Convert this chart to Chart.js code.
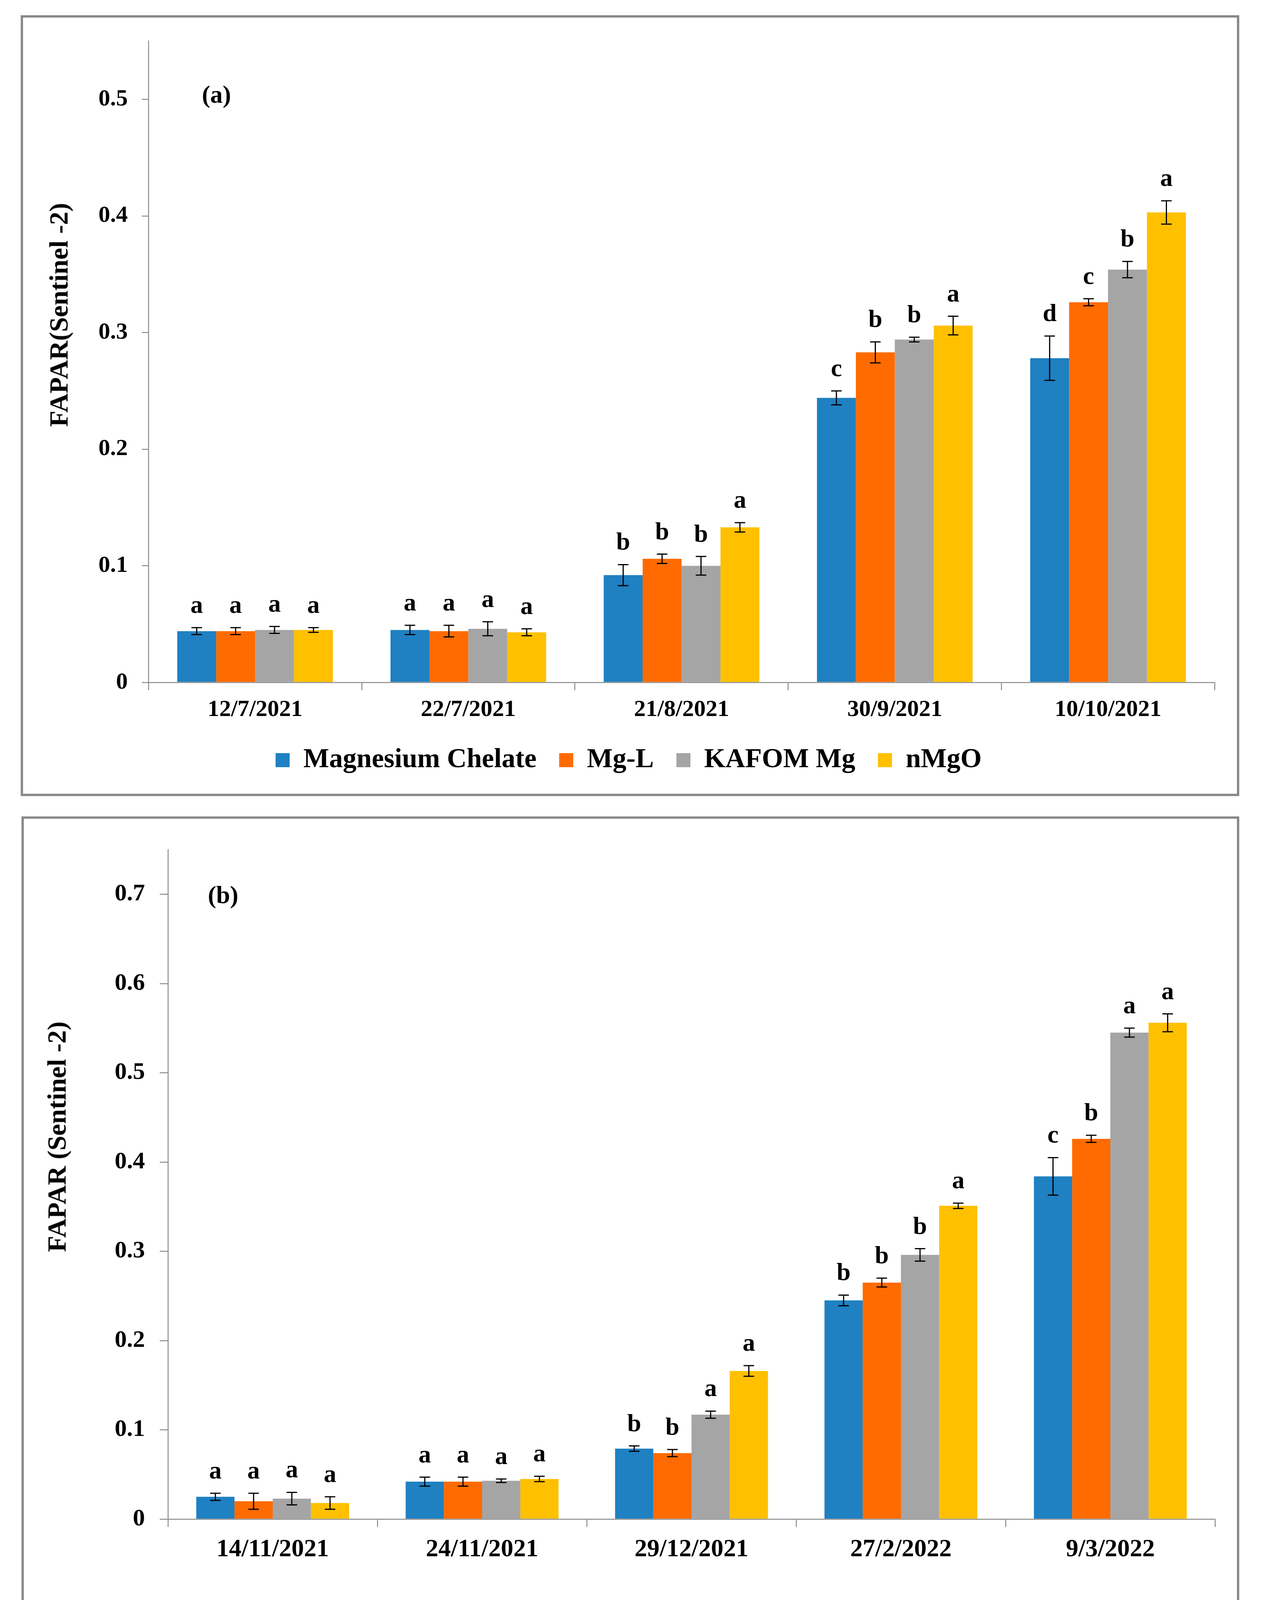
<!DOCTYPE html>
<html>
<head>
<meta charset="utf-8">
<script src="https://cdn.jsdelivr.net/npm/chart.js@4.4.0/dist/chart.umd.min.js"></script>
<style>
  html, body { margin: 0; padding: 0; background: #fff; }
  body { width: 3243px; height: 4274px; position: relative; overflow: hidden;
         font-family: 'Liberation Serif', 'Times New Roman', serif; }
  .panel { position: absolute; border: 6px solid #898989; box-sizing: border-box; background: #fff; }
  .panel canvas { position: absolute; left: 0; top: 0; }
  .ytitle { position: absolute; font-weight: bold; font-size: 68px; line-height: 1; white-space: nowrap;
            transform: translate(-50%, -50%) rotate(-90deg); color: #000; }
  .tag { position: absolute; font-weight: bold; font-size: 64px; line-height: 1; white-space: nowrap;
         transform: translate(-50%, -50%); color: #000; }
</style>
</head>
<body>

<div class="panel" style="left:53px; top:39px; width:3119px; height:1999px;">
  <canvas id="chartA" width="3107" height="1987" style="width:3107px;height:1987px;"></canvas>
  <div class="ytitle" style="left:91px; top:761px;">FAPAR(Sentinel -2)</div>
  <div class="tag" style="left:495px; top:197px;">(a)</div>
</div>

<div class="panel" style="left:55px; top:2090px; width:3117px; height:2136px;">
  <canvas id="chartB" width="3105" height="2124" style="width:3105px;height:2124px;"></canvas>
  <div class="ytitle" style="left:84px; top:814px;">FAPAR (Sentinel -2)</div>
  <div class="tag" style="left:510px; top:195px;">(b)</div>
</div>

<script>
const seriesNames = ['Magnesium Chelate', 'Mg-L', 'KAFOM Mg', 'nMgO'];
const seriesColors = ['#1F80C2', '#FF6B00', '#A5A5A5', '#FFC000'];

// panel (a)
const datesA = ['12/7/2021', '22/7/2021', '21/8/2021', '30/9/2021', '10/10/2021'];
const chelateA = [0.044, 0.045, 0.092, 0.244, 0.278];
const mglA     = [0.044, 0.044, 0.106, 0.283, 0.326];
const kafomA   = [0.045, 0.046, 0.100, 0.294, 0.354];
const nmgoA    = [0.045, 0.043, 0.133, 0.306, 0.403];
const chelateErrA = [0.003, 0.004, 0.009, 0.006, 0.019];
const mglErrA     = [0.003, 0.005, 0.004, 0.009, 0.003];
const kafomErrA   = [0.003, 0.006, 0.008, 0.002, 0.007];
const nmgoErrA    = [0.002, 0.003, 0.004, 0.008, 0.010];
const chelateLetA = ['a', 'a', 'b', 'c', 'd'];
const mglLetA     = ['a', 'a', 'b', 'b', 'c'];
const kafomLetA   = ['a', 'a', 'b', 'b', 'b'];
const nmgoLetA    = ['a', 'a', 'a', 'a', 'a'];

// panel (b)
const datesB = ['14/11/2021', '24/11/2021', '29/12/2021', '27/2/2022', '9/3/2022'];
const chelateB = [0.025, 0.042, 0.079, 0.245, 0.384];
const mglB     = [0.020, 0.042, 0.074, 0.265, 0.426];
const kafomB   = [0.023, 0.043, 0.117, 0.296, 0.545];
const nmgoB    = [0.018, 0.045, 0.166, 0.351, 0.556];
const chelateErrB = [0.004, 0.005, 0.003, 0.006, 0.021];
const mglErrB     = [0.009, 0.005, 0.004, 0.005, 0.004];
const kafomErrB   = [0.007, 0.002, 0.004, 0.007, 0.005];
const nmgoErrB    = [0.007, 0.003, 0.006, 0.003, 0.010];
const chelateLetB = ['a', 'a', 'b', 'b', 'c'];
const mglLetB     = ['a', 'a', 'b', 'b', 'b'];
const kafomLetB   = ['a', 'a', 'a', 'b', 'a'];
const nmgoLetB    = ['a', 'a', 'a', 'a', 'a'];

const axisColor = '#8c8c8c';
Chart.defaults.font.family = "'Liberation Serif', 'Times New Roman', serif";
Chart.defaults.font.weight = 'bold';
Chart.defaults.color = '#000';

// error bars + significance letters, placed from the bar elements and y scale
const errorBarsAndLetters = {
  id: 'errorBarsAndLetters',
  afterDatasetsDraw(chart, args, opts) {
    const ctx = chart.ctx;
    const y = chart.scales.y;
    ctx.save();
    chart.data.datasets.forEach((ds, i) => {
      const meta = chart.getDatasetMeta(i);
      meta.data.forEach((bar, j) => {
        const v = ds.data[j], e = ds.errors[j];
        const top = y.getPixelForValue(v + e);
        const bot = y.getPixelForValue(v - e);
        const cap = 13.5;
        ctx.strokeStyle = '#000';
        ctx.lineWidth = 3;
        ctx.beginPath();
        ctx.moveTo(bar.x, top); ctx.lineTo(bar.x, bot);
        ctx.moveTo(bar.x - cap, top); ctx.lineTo(bar.x + cap, top);
        ctx.moveTo(bar.x - cap, bot); ctx.lineTo(bar.x + cap, bot);
        ctx.stroke();
        ctx.fillStyle = '#000';
        ctx.font = opts.letterFont;
        ctx.textAlign = 'center';
        ctx.textBaseline = 'alphabetic';
        ctx.fillText(ds.letters[j], bar.x, top - opts.letterGap);
      });
    });
    ctx.restore();
  }
};

function buildChart(id, cfg) {
  return new Chart(document.getElementById(id), {
    type: 'bar',
    data: {
      labels: cfg.labels,
      datasets: cfg.series.map((vals, k) => ({
        label: seriesNames[k],
        data: vals,
        errors: cfg.errors[k],
        letters: cfg.letters[k],
        backgroundColor: seriesColors[k],
        borderWidth: 0,
        categoryPercentage: 0.73,
        barPercentage: 1.0
      }))
    },
    options: {
      responsive: false,
      animation: false,
      layout: { padding: cfg.padding },
      plugins: {
        legend: {
          position: 'bottom',
          labels: {
            color: '#000',
            font: { size: cfg.legendSize, weight: 'bold' },
            boxWidth: 36,
            boxHeight: 36,
            padding: cfg.legendPad
          }
        },
        tooltip: { enabled: false },
        errorBarsAndLetters: { letterFont: 'bold 64px "Liberation Serif"', letterGap: 38 }
      },
      scales: {
        x: {
          grid: { display: true, drawOnChartArea: false, offset: true, tickLength: 20, color: axisColor, lineWidth: 2.5 },
          border: { display: true, color: axisColor, width: 2.5 },
          ticks: { color: '#000', font: { size: cfg.xFont, weight: 'bold' }, padding: cfg.xPad, maxRotation: 0 },
          afterFit: s => { s.height = cfg.xHeight; s.paddingLeft = 0; s.paddingRight = 0; }
        },
        y: {
          min: 0,
          max: cfg.yMax,
          grid: { display: true, drawOnChartArea: false, tickLength: cfg.yTick, color: axisColor, lineWidth: 2.5 },
          border: { display: true, color: axisColor, width: 2.5 },
          ticks: {
            stepSize: 0.1,
            color: '#000',
            font: { size: cfg.yFont, weight: 'bold' },
            padding: cfg.yPad,
            callback: v => String(Math.round(v * 10) / 10)
          },
          afterBuildTicks: s => {
            s.ticks = s.ticks.filter(t => Math.abs(t.value * 10 - Math.round(t.value * 10)) < 1e-6);
          },
          afterFit: s => { s.width = cfg.yWidth; s.paddingTop = 0; s.paddingBottom = 0; }
        }
      }
    },
    plugins: [errorBarsAndLetters]
  });
}

buildChart('chartA', {
  labels: datesA,
  series: [chelateA, mglA, kafomA, nmgoA],
  errors: [chelateErrA, mglErrA, kafomErrA, nmgoErrA],
  letters: [chelateLetA, mglLetA, kafomLetA, nmgoLetA],
  padding: { left: 50, right: 57, top: 60, bottom: 41 },
  yMax: 0.55, yWidth: 271, yTick: 17, yFont: 60, yPad: 36,
  xHeight: 106, xFont: 60, xPad: 14,
  legendSize: 70, legendPad: 58
});

buildChart('chartB', {
  labels: datesB,
  series: [chelateB, mglB, kafomB, nmgoB],
  errors: [chelateErrB, mglErrB, kafomErrB, nmgoErrB],
  letters: [chelateLetB, mglLetB, kafomLetB, nmgoLetB],
  padding: { left: 50, right: 56, top: 79, bottom: 46 },
  yMax: 0.75, yWidth: 319, yTick: 21, yFont: 62, yPad: 38,
  xHeight: 133, xFont: 64, xPad: 20,
  legendSize: 72, legendPad: 70
});
</script>
</body>
</html>
